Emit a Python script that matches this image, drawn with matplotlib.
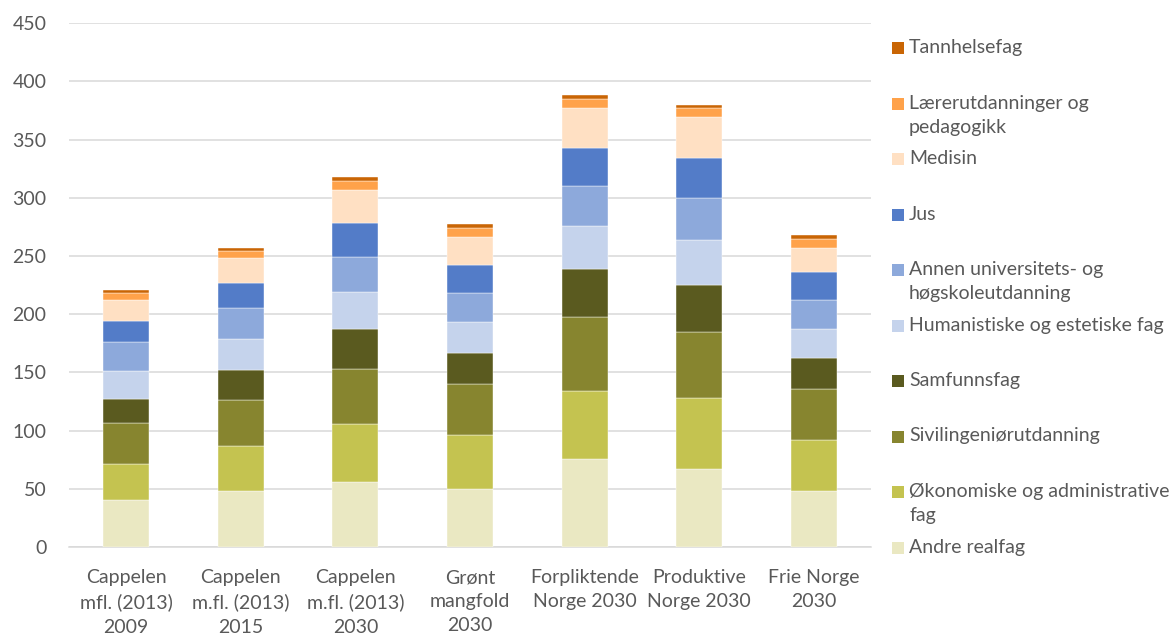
import matplotlib
matplotlib.use("Agg")
import matplotlib.pyplot as plt
import numpy as np
from matplotlib.patches import Rectangle

plt.rcParams['font.family'] = ['Lato', 'DejaVu Sans']

categories = [
    "Cappelen\nmfl. (2013)\n2009",
    "Cappelen\nm.fl. (2013)\n2015",
    "Cappelen\nm.fl. (2013)\n2030",
    "Grønt\nmangfold\n2030",
    "Forpliktende\nNorge 2030",
    "Produktive\nNorge 2030",
    "Frie Norge\n2030",
]

# series in stacking order (bottom to top)
series_names = [
    "Andre realfag",
    "Økonomiske og administrative\nfag",
    "Sivilingeniørutdanning",
    "Samfunnsfag",
    "Humanistiske og estetiske fag",
    "Annen universitets- og\nhøgskoleutdanning",
    "Jus",
    "Medisin",
    "Lærerutdanninger og\npedagogikk",
    "Tannhelsefag",
]

andre_realfag = [40, 48, 55.5, 49.5, 75.5, 67, 48]
okonomiske    = [31, 38.5, 50, 46.5, 58.5, 61, 44]
sivilingenior = [35.5, 39.5, 47.5, 44, 64, 56.5, 44]
samfunnsfag   = [20.5, 26, 34, 27, 41, 41, 26]
humanistiske  = [24, 27, 32, 26, 37, 38.5, 25.5]
annen_uh      = [25, 26, 30.5, 25, 34.5, 35.5, 25]
jus           = [18.5, 22, 28.5, 24.5, 32.5, 34.5, 24]
medisin       = [18, 21, 29, 24, 34.5, 35, 20.5]
laerer        = [5.5, 6, 7.5, 7.5, 7.5, 8, 7.5]
tannhelse     = [2.5, 2.5, 3.5, 3.5, 3.5, 3, 3.5]

series_values = [andre_realfag, okonomiske, sivilingenior, samfunnsfag,
                 humanistiske, annen_uh, jus, medisin, laerer, tannhelse]

colors = ["#EAE8C2", "#C4C350", "#87852F", "#5A5A1F", "#C5D3EC",
          "#8DA9DB", "#537CC8", "#FFE0C3", "#FFA24A", "#C96504"]

yticks = [0, 50, 100, 150, 200, 250, 300, 350, 400, 450]

W, H = 1176, 634
fig = plt.figure(figsize=(W / 100, H / 100), dpi=100)
ax = fig.add_axes([68.7 / W, 1 - 547 / H, (871.3 - 68.7) / W, (547 - 23.2) / H])

x = np.arange(len(categories))
bottom = np.zeros(len(categories))
for vals, col, name in zip(series_values, colors, series_names):
    v = np.array(vals, dtype=float)
    ax.bar(x, v, bottom=bottom, width=0.40, color=col, edgecolor='white',
           linewidth=0.3, label=name, zorder=3)
    bottom += v

ax.set_xlim(-0.5, len(categories) - 0.5)
ax.set_ylim(0, 450)
ax.set_yticks(yticks)
ax.set_yticklabels([str(t) for t in yticks])
ax.set_xticks(x)
ax.set_xticklabels(categories, linespacing=1.5)
ax.tick_params(axis='both', length=0, labelsize=14, labelcolor='#595959')
ax.tick_params(axis='y', pad=16)
ax.tick_params(axis='x', pad=16)
ax.yaxis.grid(True, color='#D9D9D9', linewidth=1.1, zorder=0)
ax.set_axisbelow(True)
for s in ['top', 'right', 'left']:
    ax.spines[s].set_visible(False)
ax.spines['bottom'].set_color('#D9D9D9')
ax.spines['bottom'].set_linewidth(1.1)

# manual legend (top to bottom: reverse stacking order)
slot0 = 48.0
dslot = (547.5 - 48.0) / 9
for i, (name, col) in enumerate(zip(series_names[::-1], colors[::-1])):
    yc = slot0 + i * dslot
    fig.patches.append(Rectangle((892 / W, 1 - (yc + 6) / H), 12 / W, 12 / H,
                                 transform=fig.transFigure, facecolor=col,
                                 edgecolor='none'))
    fig.text(909 / W, 1 - (yc - 9) / H, name, ha='left', va='top',
             fontsize=14, color='#595959', linespacing=1.5)

fig.savefig("out.png", dpi=100, facecolor='white')
